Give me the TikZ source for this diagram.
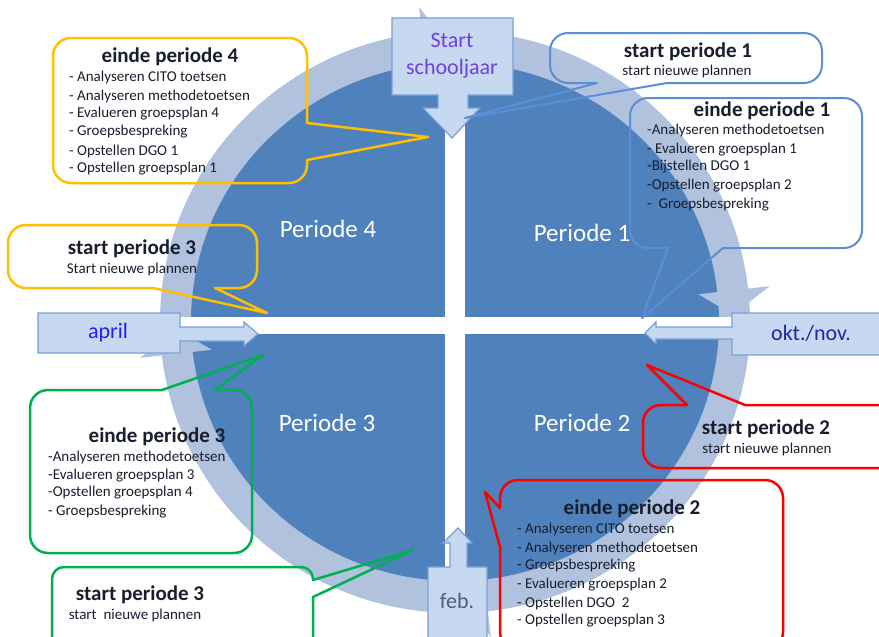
\documentclass[tikz,border=0pt]{standalone}
\usepackage{fontspec}
\setmainfont{Carlito}
\definecolor{disk}{RGB}{79,129,189}
\definecolor{ringc}{RGB}{177,194,222}
\definecolor{aboxc}{RGB}{198,217,241}
\definecolor{alinec}{RGB}{120,160,215}
\definecolor{cyel}{RGB}{255,192,0}
\definecolor{cgrn}{RGB}{0,176,80}
\definecolor{cred}{RGB}{255,0,0}
\definecolor{cblu}{RGB}{90,142,214}
\definecolor{txt}{RGB}{25,30,45}
\definecolor{tstart}{RGB}{112,64,220}
\definecolor{tapril}{RGB}{30,30,250}
\definecolor{tokt}{RGB}{30,40,160}
\definecolor{tfeb}{RGB}{75,95,130}
\def\crad{18}
\newcommand\cbox[9]{%
  \draw[#9] (#1+\crad,#2) #5 -- (#3-\crad,#2) arc[start angle=-90,end angle=0,radius=\crad] #6
    -- (#3,#4-\crad) arc[start angle=0,end angle=90,radius=\crad] #7
    -- (#1+\crad,#4) arc[start angle=90,end angle=180,radius=\crad] #8
    -- (#1,#2+\crad) arc[start angle=180,end angle=270,radius=\crad] -- cycle;}
\begin{document}
\begin{tikzpicture}[x=1pt,y=-1pt,
  ttl/.style={font=\bfseries\fontsize{21}{23}\selectfont, text=txt, inner sep=0pt},
  sub/.style={font=\fontsize{15}{16}\selectfont, text=txt, inner sep=0pt},
  itm/.style={anchor=west, font=\fontsize{15}{16}\selectfont, text=txt, inner sep=0pt},
  per/.style={font=\fontsize{25}{27}\selectfont, text=white, inner sep=0pt},
  lab/.style={font=\fontsize{22}{27}\selectfont, inner sep=0pt, align=center},
  abox/.style={fill=aboxc, draw=alinec, line width=1.2pt, line join=miter},
  cb/.style={line width=2.5pt, line join=round},
  ringhead/.style={fill=ringc}]
\useasboundingbox (0,0) rectangle (879,637);
\fill[white] (0,0) rectangle (879,637);
\clip (0,0) rectangle (879,637);
% ring and disk
\fill[ringc] (455,322) ellipse [x radius=295, y radius=291];
\fill[disk] (455,322) ellipse [x radius=264, y radius=259];
\begin{scope}[shift={(455,322)}]
  \fill[ringhead] (-96.5:317) -- (-96.5:245) -- (-91.5:278) -- cycle;
  \fill[ringhead] (-6.5:317) -- (-6.5:245) -- (-1.5:278) -- cycle;
  \fill[ringhead] (83.5:317) -- (83.5:245) -- (88.5:278) -- cycle;
  \fill[ringhead] (173.5:317) -- (173.5:245) -- (178.5:278) -- cycle;
\end{scope}
% cross
\fill[white] (445,28) rectangle (465,615);
\fill[white] (160,317) rectangle (750,334);
% arrow boxes
\draw[abox] (392,18) -- (513,18) -- (513,95) -- (468,95) -- (468,108) -- (480,108) -- (452,138)
  -- (423,108) -- (438,108) -- (438,95) -- (392,95) -- cycle;
\draw[abox] (38,313) -- (180,313) -- (180,327) -- (244,327) -- (244,322) -- (258,334)
  -- (244,346) -- (244,341) -- (180,341) -- (180,353) -- (38,353) -- cycle;
\draw[abox] (900,313) -- (732,313) -- (732,327) -- (656,327) -- (656,322) -- (645,333)
  -- (656,344) -- (656,339) -- (732,339) -- (732,355) -- (900,355) -- cycle;
\draw[abox] (428,650) -- (428,567) -- (450,567) -- (450,543) -- (443,543) -- (458,528)
  -- (472,543) -- (467,543) -- (467,567) -- (487,567) -- (487,650) -- cycle;
\node[lab, text=tstart] (start) at (452,56) {Start\\schooljaar};
\node[lab, text=tapril] (april) at (108,333) {april};
\node[lab, text=tokt] (okt) at (811,333) {okt./nov.};
\node[lab, text=tfeb] (feb) at (457,601) {feb.};
% period labels
\node[per] (p4) at (328,229) {Periode 4};
\node[per] (p1) at (582,233) {Periode 1};
\node[per] (p3) at (327,423) {Periode 3};
\node[per] (p2) at (582,423) {Periode 2};
% callouts
\cbox{53}{38}{307}{183}{}{-- (307,123) -- (428,137) -- (307,160)}{}{}{cb, draw=cyel}
\cbox{8}{225}{257}{288}{}{}{-- (215,288) -- (267,313) -- (153,288)}{}{cb, draw=cyel}
\cbox{550}{33}{822}{83}{}{}{-- (667,83) -- (465,118) -- (597,83)}{}{cb, draw=cblu, line width=2pt}
\cbox{630}{98}{862}{248}{}{}{-- (723,248) -- (642,318) -- (668,248)}{}{cb, draw=cblu, line width=2pt}
\cbox{30}{390}{252}{553}{-- (162,390) -- (263,355) -- (215,390)}{}{}{}{cb, draw=cgrn}
\def\crad{12}
\cbox{52}{567}{313}{650}{}{-- (313,580) -- (413,550) -- (313,597)}{}{}{cb, draw=cgrn}
\def\crad{18}
\cbox{643}{405}{910}{468}{-- (687,405) -- (647,365) -- (745,405)}{}{}{}{cb, draw=cred}
\cbox{500}{480}{783}{650}{}{}{}{-- (500,547) -- (485,492) -- (500,508)}{cb, draw=cred}
% callout texts
\node[ttl] (t4) at (170,57) {einde periode 4};
\node[itm] (t4a) at (69,78) {- Analyseren CITO toetsen};
\node[itm] (t4b) at (69,96) {- Analyseren methodetoetsen};
\node[itm] (t4c) at (69,114) {- Evalueren groepsplan 4};
\node[itm] (t4d) at (69,132) {- Groepsbespreking};
\node[itm] (t4e) at (69,151) {- Opstellen DGO 1};
\node[itm] (t4f) at (69,169) {- Opstellen groepsplan 1};
\node[ttl] (s3) at (132,249) {start periode 3};
\node[sub] (s3a) at (132,269) {Start nieuwe plannen};
\node[ttl] (s1) at (688,52) {start periode 1};
\node[sub] (s1a) at (687,72) {start nieuwe plannen};
\node[ttl] (e1) at (762,111) {einde periode 1};
\node[itm] (e1a) at (647,131) {-Analyseren methodetoetsen};
\node[itm] (e1b) at (647,150) {- Evalueren groepsplan 1};
\node[itm] (e1c) at (647,167) {-Bijstellen DGO 1};
\node[itm] (e1d) at (647,186) {-Opstellen groepsplan 2};
\node[itm] (e1e) at (647,205) {-\ \ Groepsbespreking};
\node[ttl] (e3) at (157,437) {einde periode 3};
\node[itm] (e3a) at (48,457) {-Analyseren methodetoetsen};
\node[itm] (e3b) at (48,476) {-Evalueren groepsplan 3};
\node[itm] (e3c) at (48,493) {-Opstellen groepsplan 4};
\node[itm] (e3d) at (48,512) {- Groepsbespreking};
\node[ttl] (s3b) at (140,595) {start periode 3};
\node[sub] (s3ba) at (135,615) {start\ \ nieuwe plannen};
\node[ttl] (s2) at (766,429) {start periode 2};
\node[sub] (s2a) at (767,449) {start nieuwe plannen};
\node[ttl] (e2) at (632,509) {einde periode 2};
\node[itm] (e2a) at (517,529) {- Analyseren CITO toetsen};
\node[itm] (e2b) at (517,548) {- Analyseren methodetoetsen};
\node[itm] (e2c) at (517,566) {- Groepsbespreking};
\node[itm] (e2d) at (517,585) {- Evalueren groepsplan 2};
\node[itm] (e2e) at (517,603) {- Opstellen DGO\ \ 2};
\node[itm] (e2f) at (517,621) {- Opstellen groepsplan 3};
\end{tikzpicture}
\end{document}
